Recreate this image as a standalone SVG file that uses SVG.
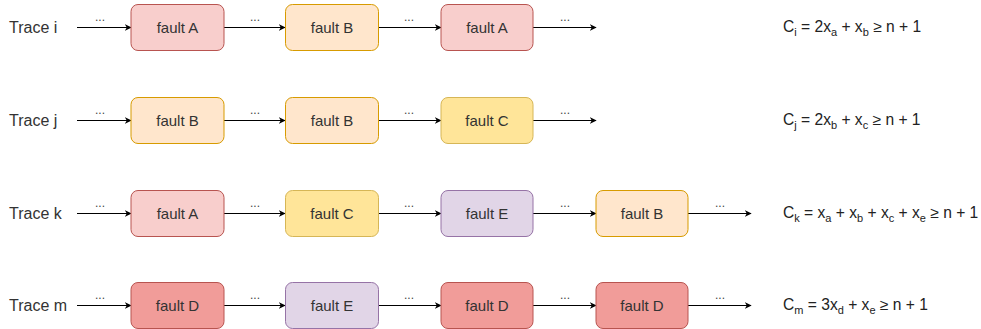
<svg xmlns="http://www.w3.org/2000/svg" width="981" height="329" viewBox="0 0 981 329">
<defs>
<marker id="arr" viewBox="0 0 10 10" refX="9" refY="5" markerWidth="7" markerHeight="7" markerUnits="userSpaceOnUse" orient="auto">
<path d="M0,0 L10,5 L0,10 L3,5 Z" fill="#000"/>
</marker>
<style>
text{font-family:"Liberation Sans",Arial,sans-serif;fill:#333}
.lbl{font-size:16px}
.flt{font-size:15px;text-anchor:middle}
.dots{font-size:12px;text-anchor:middle;fill:#444}
.eq{font-size:15.6px;fill:#222}
.sub{font-size:11px}
.box{stroke-width:1}
.A{fill:#f8cecc;stroke:#b85450}
.B{fill:#ffe6cc;stroke:#d79b00}
.C{fill:#ffe599;stroke:#d6b656}
.D{fill:#f19c99;stroke:#b85450}
.E{fill:#e1d5e7;stroke:#9673a6}
.con line{stroke:#000;stroke-width:1;marker-end:url(#arr)}
</style>
</defs>
<rect width="981" height="329" fill="#fff"/>

<g id="labels">
<text class="lbl" x="9" y="33">Trace i</text>
<text class="lbl" x="9" y="126">Trace j</text>
<text class="lbl" x="9" y="219">Trace k</text>
<text class="lbl" x="9" y="311">Trace m</text>
</g>

<g class="con" id="connectors">
<line x1="77" y1="27.5" x2="131" y2="27.5"/>
<line x1="224" y1="27.5" x2="285" y2="27.5"/>
<line x1="379" y1="27.5" x2="441" y2="27.5"/>
<line x1="533" y1="27.5" x2="596" y2="27.5"/>
<line x1="77" y1="120.5" x2="131" y2="120.5"/>
<line x1="224" y1="120.5" x2="285" y2="120.5"/>
<line x1="379" y1="120.5" x2="441" y2="120.5"/>
<line x1="533" y1="120.5" x2="596" y2="120.5"/>
<line x1="77" y1="213.5" x2="131" y2="213.5"/>
<line x1="224" y1="213.5" x2="285" y2="213.5"/>
<line x1="379" y1="213.5" x2="441" y2="213.5"/>
<line x1="533" y1="213.5" x2="596" y2="213.5"/>
<line x1="688" y1="213.5" x2="751" y2="213.5"/>
<line x1="77" y1="305.5" x2="131" y2="305.5"/>
<line x1="224" y1="305.5" x2="285" y2="305.5"/>
<line x1="379" y1="305.5" x2="441" y2="305.5"/>
<line x1="533" y1="305.5" x2="596" y2="305.5"/>
<line x1="688" y1="305.5" x2="751" y2="305.5"/>
<text class="dots" x="100" y="21">...</text>
<text class="dots" x="255" y="21">...</text>
<text class="dots" x="409" y="21">...</text>
<text class="dots" x="565" y="21">...</text>
<text class="dots" x="100" y="114">...</text>
<text class="dots" x="255" y="114">...</text>
<text class="dots" x="409" y="114">...</text>
<text class="dots" x="565" y="114">...</text>
<text class="dots" x="100" y="207">...</text>
<text class="dots" x="255" y="207">...</text>
<text class="dots" x="409" y="207">...</text>
<text class="dots" x="565" y="207">...</text>
<text class="dots" x="720" y="207">...</text>
<text class="dots" x="100" y="299">...</text>
<text class="dots" x="255" y="299">...</text>
<text class="dots" x="409" y="299">...</text>
<text class="dots" x="565" y="299">...</text>
<text class="dots" x="720" y="299">...</text>
</g>

<g id="i1"><rect class="box A" x="131" y="4.5" width="93" height="46" rx="7"/><text class="flt" x="177.5" y="33">fault A</text></g>
<g id="i2"><rect class="box B" x="285.5" y="4.5" width="93" height="46" rx="7"/><text class="flt" x="332" y="33">fault B</text></g>
<g id="i3"><rect class="box A" x="441" y="4.5" width="92" height="46" rx="7"/><text class="flt" x="487" y="33">fault A</text></g>

<g id="j1"><rect class="box B" x="131" y="97.5" width="93" height="46" rx="7"/><text class="flt" x="177.5" y="126">fault B</text></g>
<g id="j2"><rect class="box B" x="285.5" y="97.5" width="93" height="46" rx="7"/><text class="flt" x="332" y="126">fault B</text></g>
<g id="j3"><rect class="box C" x="441" y="97.5" width="92" height="46" rx="7"/><text class="flt" x="487" y="126">fault C</text></g>

<g id="k1"><rect class="box A" x="131" y="190.5" width="93" height="46" rx="7"/><text class="flt" x="177.5" y="219">fault A</text></g>
<g id="k2"><rect class="box C" x="285.5" y="190.5" width="93" height="46" rx="7"/><text class="flt" x="332" y="219">fault C</text></g>
<g id="k3"><rect class="box E" x="441" y="190.5" width="92" height="46" rx="7"/><text class="flt" x="487" y="219">fault E</text></g>
<g id="k4"><rect class="box B" x="596" y="190.5" width="92" height="46" rx="7"/><text class="flt" x="642" y="219">fault B</text></g>

<g id="m1"><rect class="box D" x="131" y="282.5" width="93" height="46" rx="7"/><text class="flt" x="177.5" y="311">fault D</text></g>
<g id="m2"><rect class="box E" x="285.5" y="282.5" width="93" height="46" rx="7"/><text class="flt" x="332" y="311">fault E</text></g>
<g id="m3"><rect class="box D" x="441" y="282.5" width="92" height="46" rx="7"/><text class="flt" x="487" y="311">fault D</text></g>
<g id="m4"><rect class="box D" x="596" y="282.5" width="92" height="46" rx="7"/><text class="flt" x="642" y="311">fault D</text></g>

<g id="equations">
<text class="eq" x="783" y="32">C<tspan class="sub" dy="4">i</tspan><tspan dy="-4"> = 2x</tspan><tspan class="sub" dy="4">a</tspan><tspan dy="-4"> + x</tspan><tspan class="sub" dy="4">b</tspan><tspan dy="-4"> ≥ n + 1</tspan></text>
<text class="eq" x="783" y="125">C<tspan class="sub" dy="4">j</tspan><tspan dy="-4"> = 2x</tspan><tspan class="sub" dy="4">b</tspan><tspan dy="-4"> + x</tspan><tspan class="sub" dy="4">c</tspan><tspan dy="-4"> ≥ n + 1</tspan></text>
<text class="eq" x="783" y="218">C<tspan class="sub" dy="4">k</tspan><tspan dy="-4"> = x</tspan><tspan class="sub" dy="4">a</tspan><tspan dy="-4"> + x</tspan><tspan class="sub" dy="4">b</tspan><tspan dy="-4"> + x</tspan><tspan class="sub" dy="4">c</tspan><tspan dy="-4"> + x</tspan><tspan class="sub" dy="4">e</tspan><tspan dy="-4"> ≥ n + 1</tspan></text>
<text class="eq" x="783" y="310">C<tspan class="sub" dy="4">m</tspan><tspan dy="-4"> = 3x</tspan><tspan class="sub" dy="4">d</tspan><tspan dy="-4"> + x</tspan><tspan class="sub" dy="4">e</tspan><tspan dy="-4"> ≥ n + 1</tspan></text>
</g>
</svg>
